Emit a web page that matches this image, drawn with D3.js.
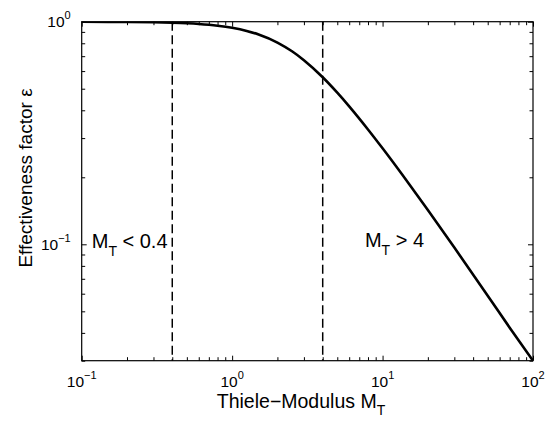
<!DOCTYPE html>
<html>
<head>
<meta charset="utf-8">
<script src="https://cdn.jsdelivr.net/npm/d3@7"></script>
<style>
  html, body { margin: 0; padding: 0; background: #fff; }
  svg { display: block; }
  text { font-family: "Liberation Sans", Arial, Helvetica, sans-serif; fill: #000; }
</style>
</head>
<body>
<svg id="chart" width="555" height="423"></svg>
<script>
// ---- data ----
const thieleModulus = [0.1, 0.15, 0.2, 0.3, 0.4, 0.5, 0.6, 0.8, 1, 1.25, 1.5, 2, 2.5, 3, 4, 5, 6, 8, 10, 15, 20, 30, 50, 70, 100];
const effectiveness = [0.9993, 0.9985, 0.9973, 0.9941, 0.9895, 0.9837, 0.9768, 0.9598, 0.9391, 0.9093, 0.8763, 0.8060, 0.7363, 0.6716, 0.5630, 0.4800, 0.4167, 0.3281, 0.2700, 0.1867, 0.1425, 0.0967, 0.0588, 0.0422, 0.0300];
const boundaryValues = [0.4, 4];
const xMajorTicks = [0.1, 1, 10, 100];
const xTickExponents = ["\u22121", "0", "1", "2"];
const yMajorTicks = [0.1, 1];
const yTickExponents = ["\u22121", "0"];
const xDomain = [0.1, 100];
const yDomain = [0.03, 1];
const annotationTexts = [["M", "T", " < 0.4"], ["M", "T", " > 4"]];
const annotationAnchors = [[0.1166, 0.0959], [7.63, 0.0975]];
const xTitle = ["Thiele\u2212Modulus M", "T"];
const yTitle = "Effectiveness factor \u03b5";

// ---- layout ----
const svg = d3.select("#chart");
const L = 81.7, R = 533, T = 21.7, B = 360.7;

const x = d3.scaleLog().domain(xDomain).range([L, R]);
const y = d3.scaleLog().domain(yDomain).range([B, T]);

function minorTicks(domain) {
  const out = [];
  const lo = Math.floor(Math.log10(domain[0])), hi = Math.ceil(Math.log10(domain[1]));
  for (let e = lo; e < hi; e++) {
    for (let m = 2; m <= 9; m++) {
      const v = m * Math.pow(10, e);
      if (v >= domain[0] - 1e-12 && v <= domain[1] + 1e-12) out.push(v);
    }
  }
  return out;
}
const xMinor = minorTicks(xDomain);
const yMinor = minorTicks(yDomain);

const majorLen = 5, minorLen = 3.5;

function addAxis(gen, transform) {
  const g = svg.append("g").attr("transform", transform).call(gen);
  g.select(".domain").remove();
  g.selectAll("line").attr("stroke", "#000").attr("stroke-width", 1);
  g.selectAll("text").remove();
  return g;
}
// bottom & top
addAxis(d3.axisBottom(x).tickValues(xMajorTicks).tickSize(-majorLen), `translate(0,${B})`);
addAxis(d3.axisBottom(x).tickValues(xMinor).tickSize(-minorLen), `translate(0,${B})`);
addAxis(d3.axisTop(x).tickValues(xMajorTicks).tickSize(-majorLen), `translate(0,${T})`);
addAxis(d3.axisTop(x).tickValues(xMinor).tickSize(-minorLen), `translate(0,${T})`);
// left & right
addAxis(d3.axisLeft(y).tickValues(yMajorTicks).tickSize(-majorLen), `translate(${L},0)`);
addAxis(d3.axisLeft(y).tickValues(yMinor).tickSize(-minorLen), `translate(${L},0)`);
addAxis(d3.axisRight(y).tickValues(yMajorTicks).tickSize(-majorLen), `translate(${R},0)`);
addAxis(d3.axisRight(y).tickValues(yMinor).tickSize(-minorLen), `translate(${R},0)`);

// clip
svg.append("clipPath").attr("id", "plotclip")
  .append("rect").attr("x", L).attr("y", T).attr("width", R - L).attr("height", B - T);

// dashed boundary lines
svg.append("g").attr("clip-path", "url(#plotclip)")
  .selectAll("line").data(boundaryValues).join("line")
  .attr("x1", d => x(d)).attr("x2", d => x(d))
  .attr("y1", T).attr("y2", B)
  .attr("stroke", "#000").attr("stroke-width", 1.5)
  .attr("stroke-dasharray", "9,4.5");

// curve
const pts = thieleModulus.map((m, i) => [m, effectiveness[i]]);
const line = d3.line().x(d => x(d[0])).y(d => y(d[1])).curve(d3.curveMonotoneX);
svg.append("path").datum(pts)
  .attr("clip-path", "url(#plotclip)")
  .attr("d", line)
  .attr("fill", "none").attr("stroke", "#000").attr("stroke-width", 2.6)
  .attr("stroke-linejoin", "round");

// box
svg.append("rect").attr("x", L).attr("y", T).attr("width", R - L).attr("height", B - T)
  .attr("fill", "none").attr("stroke", "#000").attr("stroke-width", 1.2);

// x tick labels
const xl = svg.append("g");
xMajorTicks.forEach((v, i) => {
  const t = xl.append("text").attr("x", x(v)).attr("y", B + 26.5)
    .attr("text-anchor", "middle").attr("font-size", 15.5);
  t.append("tspan").text("10");
  t.append("tspan").attr("dy", -8).attr("font-size", 11).text(xTickExponents[i]);
});
// y tick labels
const yl = svg.append("g");
yMajorTicks.forEach((v, i) => {
  const t = yl.append("text").attr("x", L - 11).attr("y", y(v) + 5.6)
    .attr("text-anchor", "end").attr("font-size", 15.5);
  t.append("tspan").text("10");
  t.append("tspan").attr("dy", -8).attr("font-size", 11).text(yTickExponents[i]);
});

// axis titles
const xt = svg.append("text").attr("x", 301).attr("y", 408)
  .attr("text-anchor", "middle").attr("font-size", 19.5);
xt.append("tspan").text(xTitle[0]);
xt.append("tspan").attr("dy", 7).attr("font-size", 14).text(xTitle[1]);

svg.append("text")
  .attr("transform", `translate(32,178) rotate(-90)`)
  .attr("text-anchor", "middle").attr("font-size", 19)
  .text(yTitle);

// annotations
annotationTexts.forEach((parts, i) => {
  const [ax, ay] = annotationAnchors[i];
  const t = svg.append("text").attr("x", x(ax)).attr("y", y(ay)).attr("font-size", 20);
  t.append("tspan").text(parts[0]);
  t.append("tspan").attr("dy", 8).attr("font-size", 14).text(parts[1]);
  t.append("tspan").attr("dy", -8).text(parts[2]);
});
</script>
</body>
</html>
